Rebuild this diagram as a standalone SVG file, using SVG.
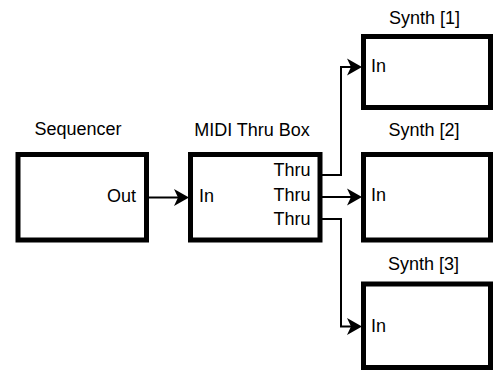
<svg xmlns="http://www.w3.org/2000/svg" width="493" height="370" viewBox="0 0 493 370">
<style>
.box{fill:#fff;stroke:#000;stroke-width:5}
.t{font-family:"Liberation Sans",Arial,sans-serif;font-size:18px;fill:#000}
.m{text-anchor:middle}
.e{text-anchor:end}
.c{fill:none;stroke:#000;stroke-width:2}
</style>
<defs>
<marker id="arr" viewBox="-13 -10 17 20" markerWidth="17" markerHeight="20" refX="0" refY="0" orient="auto" markerUnits="userSpaceOnUse">
<path d="M3,0 L-12,-8.5 L-8,0 L-12,8.5 Z" fill="#000"/>
</marker>
</defs>
<rect width="493" height="370" fill="#fff"/>
<g id="sequencer">
<rect class="box" x="18" y="154.5" width="128.5" height="85.5"/>
<text class="t m" x="78" y="135">Sequencer</text>
<text class="t e" x="136" y="201.5">Out</text>
</g>
<g id="midi-thru-box">
<rect class="box" x="190.5" y="154.5" width="129.5" height="85.5"/>
<text class="t m" x="252" y="136">MIDI Thru Box</text>
<text class="t" x="199" y="201.5">In</text>
<text class="t e" x="310.5" y="176">Thru</text>
<text class="t e" x="310.5" y="200.8">Thru</text>
<text class="t e" x="310.5" y="225">Thru</text>
</g>
<g id="synth1">
<rect class="box" x="363.5" y="36.5" width="127" height="71"/>
<text class="t m" x="424.5" y="23.5">Synth [1]</text>
<text class="t" x="371" y="72">In</text>
</g>
<g id="synth2">
<rect class="box" x="363.5" y="154.5" width="127" height="85.5"/>
<text class="t m" x="424" y="136">Synth [2]</text>
<text class="t" x="371" y="201">In</text>
</g>
<g id="synth3">
<rect class="box" x="363.5" y="284" width="127" height="83.5"/>
<text class="t m" x="423.5" y="270">Synth [3]</text>
<text class="t" x="371" y="331.5">In</text>
</g>
<g id="connectors">
<path class="c" d="M146.5 197.5 H186" marker-end="url(#arr)"/>
<path class="c" d="M320 175 H341 V67 H359" marker-end="url(#arr)"/>
<path class="c" d="M320 197 H359" marker-end="url(#arr)"/>
<path class="c" d="M320 219 H341 V326.5 H359" marker-end="url(#arr)"/>
</g>
</svg>
